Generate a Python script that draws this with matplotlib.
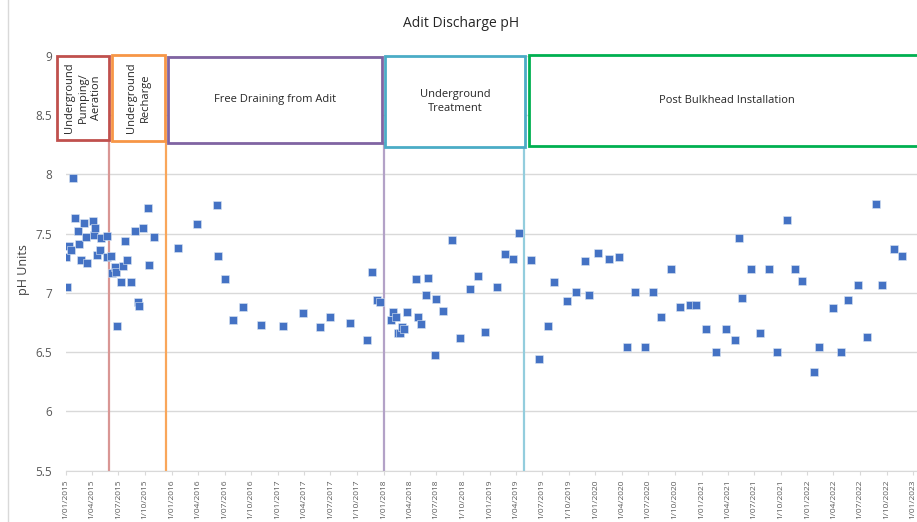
import pandas as pd
import matplotlib.pyplot as plt
import matplotlib.dates as mdates
from matplotlib.patches import Rectangle
from matplotlib.lines import Line2D
from matplotlib.ticker import FuncFormatter

plt.rcParams["font.family"] = ["Open Sans", "DejaVu Sans"]

# Sample dates and pH readings
sample_dates = [
    "2015-01-02", "2015-01-03", "2015-01-10", "2015-01-17", "2015-01-24", "2015-02-01",
    "2015-02-12", "2015-02-15", "2015-02-22", "2015-03-05", "2015-03-11", "2015-03-14",
    "2015-04-03", "2015-04-06", "2015-04-12", "2015-04-17", "2015-04-27", "2015-05-02",
    "2015-05-21", "2015-05-23", "2015-06-06", "2015-06-10", "2015-06-18", "2015-06-24",
    "2015-06-27", "2015-07-09", "2015-07-17", "2015-07-23", "2015-07-29", "2015-08-14",
    "2015-08-27", "2015-09-05", "2015-09-10", "2015-09-25", "2015-10-10", "2015-10-15",
    "2015-10-30",
    "2016-01-23", "2016-03-27", "2016-06-04", "2016-06-09", "2016-07-01", "2016-07-29",
    "2016-09-03", "2016-11-04", "2017-01-19", "2017-03-28", "2017-05-26", "2017-06-30",
    "2017-09-08", "2017-11-04", "2017-11-23", "2017-12-10", "2017-12-18",
    "2018-01-26", "2018-02-03", "2018-02-11", "2018-02-19", "2018-02-27", "2018-03-05",
    "2018-03-11", "2018-03-22", "2018-04-22", "2018-04-29", "2018-05-10", "2018-05-28",
    "2018-06-04", "2018-06-25", "2018-06-30", "2018-07-24", "2018-08-24", "2018-09-20",
    "2018-10-27", "2018-11-23", "2018-12-15", "2019-01-27", "2019-02-23", "2019-03-24",
    "2019-04-13",
    "2019-05-24", "2019-06-20", "2019-07-22", "2019-08-11", "2019-09-24", "2019-10-26",
    "2019-11-25", "2019-12-11", "2020-01-11", "2020-02-17", "2020-03-22", "2020-04-19",
    "2020-05-17", "2020-06-19", "2020-07-19", "2020-08-15", "2020-09-17", "2020-10-20",
    "2020-11-22", "2020-12-12", "2021-01-17", "2021-02-19", "2021-03-25", "2021-04-25",
    "2021-05-10", "2021-05-19", "2021-06-20", "2021-07-21", "2021-08-21", "2021-09-19",
    "2021-10-24", "2021-11-20", "2021-12-12", "2022-01-23", "2022-02-10", "2022-03-30",
    "2022-04-27", "2022-05-21", "2022-06-25", "2022-07-24", "2022-08-27", "2022-09-17",
    "2022-10-25", "2022-11-22",
]
ph_values = [
    7.30, 7.05, 7.40, 7.36, 7.97, 7.63,
    7.52, 7.41, 7.28, 7.59, 7.47, 7.25,
    7.61, 7.49, 7.55, 7.32, 7.36, 7.46,
    7.30, 7.48, 7.31, 7.17, 7.22, 7.18,
    6.72, 7.09, 7.23, 7.44, 7.28, 7.09,
    7.52, 6.92, 6.89, 7.55, 7.72, 7.24,
    7.47,
    7.38, 7.58, 7.74, 7.31, 7.12, 6.77,
    6.88, 6.73, 6.72, 6.83, 6.71, 6.80,
    6.75, 6.60, 7.18, 6.94, 6.92,
    6.77, 6.84, 6.80, 6.66, 6.66, 6.71,
    6.70, 6.84, 7.12, 6.80, 6.74, 6.98,
    7.13, 6.48, 6.95, 6.85, 7.45, 6.62,
    7.03, 7.14, 6.67, 7.05, 7.33, 7.29,
    7.51,
    7.28, 6.44, 6.72, 7.09, 6.93, 7.01,
    7.27, 6.98, 7.34, 7.29, 7.30, 6.54,
    7.01, 6.54, 7.01, 6.80, 7.20, 6.88,
    6.90, 6.90, 6.70, 6.50, 6.70, 6.60,
    7.46, 6.96, 7.20, 6.66, 7.20, 6.50,
    7.62, 7.20, 7.10, 6.33, 6.54, 6.87,
    6.50, 6.94, 7.07, 6.63, 7.75, 7.07,
    7.37, 7.31,
]

# Phase change dates (vertical lines) and phase labels
phase_change_dates = ["2015-05-28", "2015-12-11", "2018-01-01", "2019-04-28"]
phase_labels = [
    "Underground\nPumping/\nAeration",
    "Underground\nRecharge",
    "Free Draining from Adit",
    "Underground\nTreatment",
    "Post Bulkhead Installation",
]

data = pd.DataFrame({"date": pd.to_datetime(sample_dates), "ph": ph_values})
changes = pd.to_datetime(phase_change_dates)

W, H = 917, 522
fig = plt.figure(figsize=(W / 100, H / 100), dpi=100)
ax = fig.add_axes([66 / W, 51.3 / H, 851 / W, 414.7 / H])

ax.scatter(data["date"], data["ph"], marker="s", s=30, color="#4472C4",
           edgecolors="#DCE6F2", linewidths=0.4, zorder=3)

ax.set_ylim(5.5, 9)
ax.set_yticks([5.5, 6, 6.5, 7, 7.5, 8, 8.5, 9])
ax.set_yticklabels(["5.5", "6", "6.5", "7", "7.5", "8", "8.5", "9"])
ax.set_xlim(pd.Timestamp("2015-01-01"), pd.Timestamp("2023-01-14"))
ax.xaxis.set_major_locator(mdates.MonthLocator(bymonth=[1, 4, 7, 10]))
ax.xaxis.set_major_formatter(FuncFormatter(
    lambda v, pos: (lambda d: f"{d.day}/{d.month:02d}/{d.year}")(mdates.num2date(v))))

ax.grid(axis="y", color="#D9D9D9", lw=1)
ax.set_axisbelow(True)
for s in ["top", "right", "left"]:
    ax.spines[s].set_visible(False)
ax.spines["bottom"].set_color("#D9D9D9")
ax.tick_params(axis="y", length=0, pad=10, labelsize=8.5, labelcolor="#595959")
ax.tick_params(axis="x", length=3, color="#D9D9D9", pad=3, labelsize=6.0,
               labelcolor="#595959", labelrotation=90)

# vertical phase lines
line_colors = ["#D99694", "#F9A65A", "#B3A2C7", "#93CDDD"]
line_tops = [0.797, 0.795, 0.790, 0.814]
for d, c, t in zip(changes, line_colors, line_tops):
    ax.axvline(d, ymin=0, ymax=t, color=c, lw=1.6, zorder=2)

# phase boxes (axes fraction)
box_x = [(-0.0106, 0.0505), (0.054, 0.116), (0.120, 0.371), (0.375, 0.539), (0.544, 1.02)]
box_y = [(0.797, 1.0), (0.795, 1.002), (0.790, 0.998), (0.781, 1.0), (0.783, 1.002)]
box_colors = ["#C0504D", "#F79646", "#8064A2", "#4BACC6", "#00B050"]
for (x0, x1), (y0, y1), c, lab in zip(box_x, box_y, box_colors, phase_labels):
    ax.add_patch(Rectangle((x0, y0), x1 - x0, y1 - y0, transform=ax.transAxes,
                           fill=True, facecolor="white", edgecolor=c, lw=2,
                           clip_on=False, zorder=4))
    rot = 90 if x1 - x0 < 0.08 else 0
    cy = (y0 + y1) / 2
    cx = (x0 + min(x1, 1.0)) / 2
    if lab.startswith("Post"):
        cx = 0.776
    ax.text(cx, cy, lab, transform=ax.transAxes, ha="center", va="center",
            rotation=rot, fontsize=8, color="#262626", linespacing=1.35, zorder=5)

fig.text(0.503, 0.955, "Adit Discharge pH", ha="center", va="center",
         fontsize=10, color="#262626")
fig.text(0.026, 0.483, "pH Units", rotation=90, ha="center", va="center",
         fontsize=9, color="#404040")
fig.add_artist(Line2D([7.5 / W, 7.5 / W], [0, 1], transform=fig.transFigure,
                      color="#D9D9D9", lw=1))

fig.savefig("out.png", dpi=100)
